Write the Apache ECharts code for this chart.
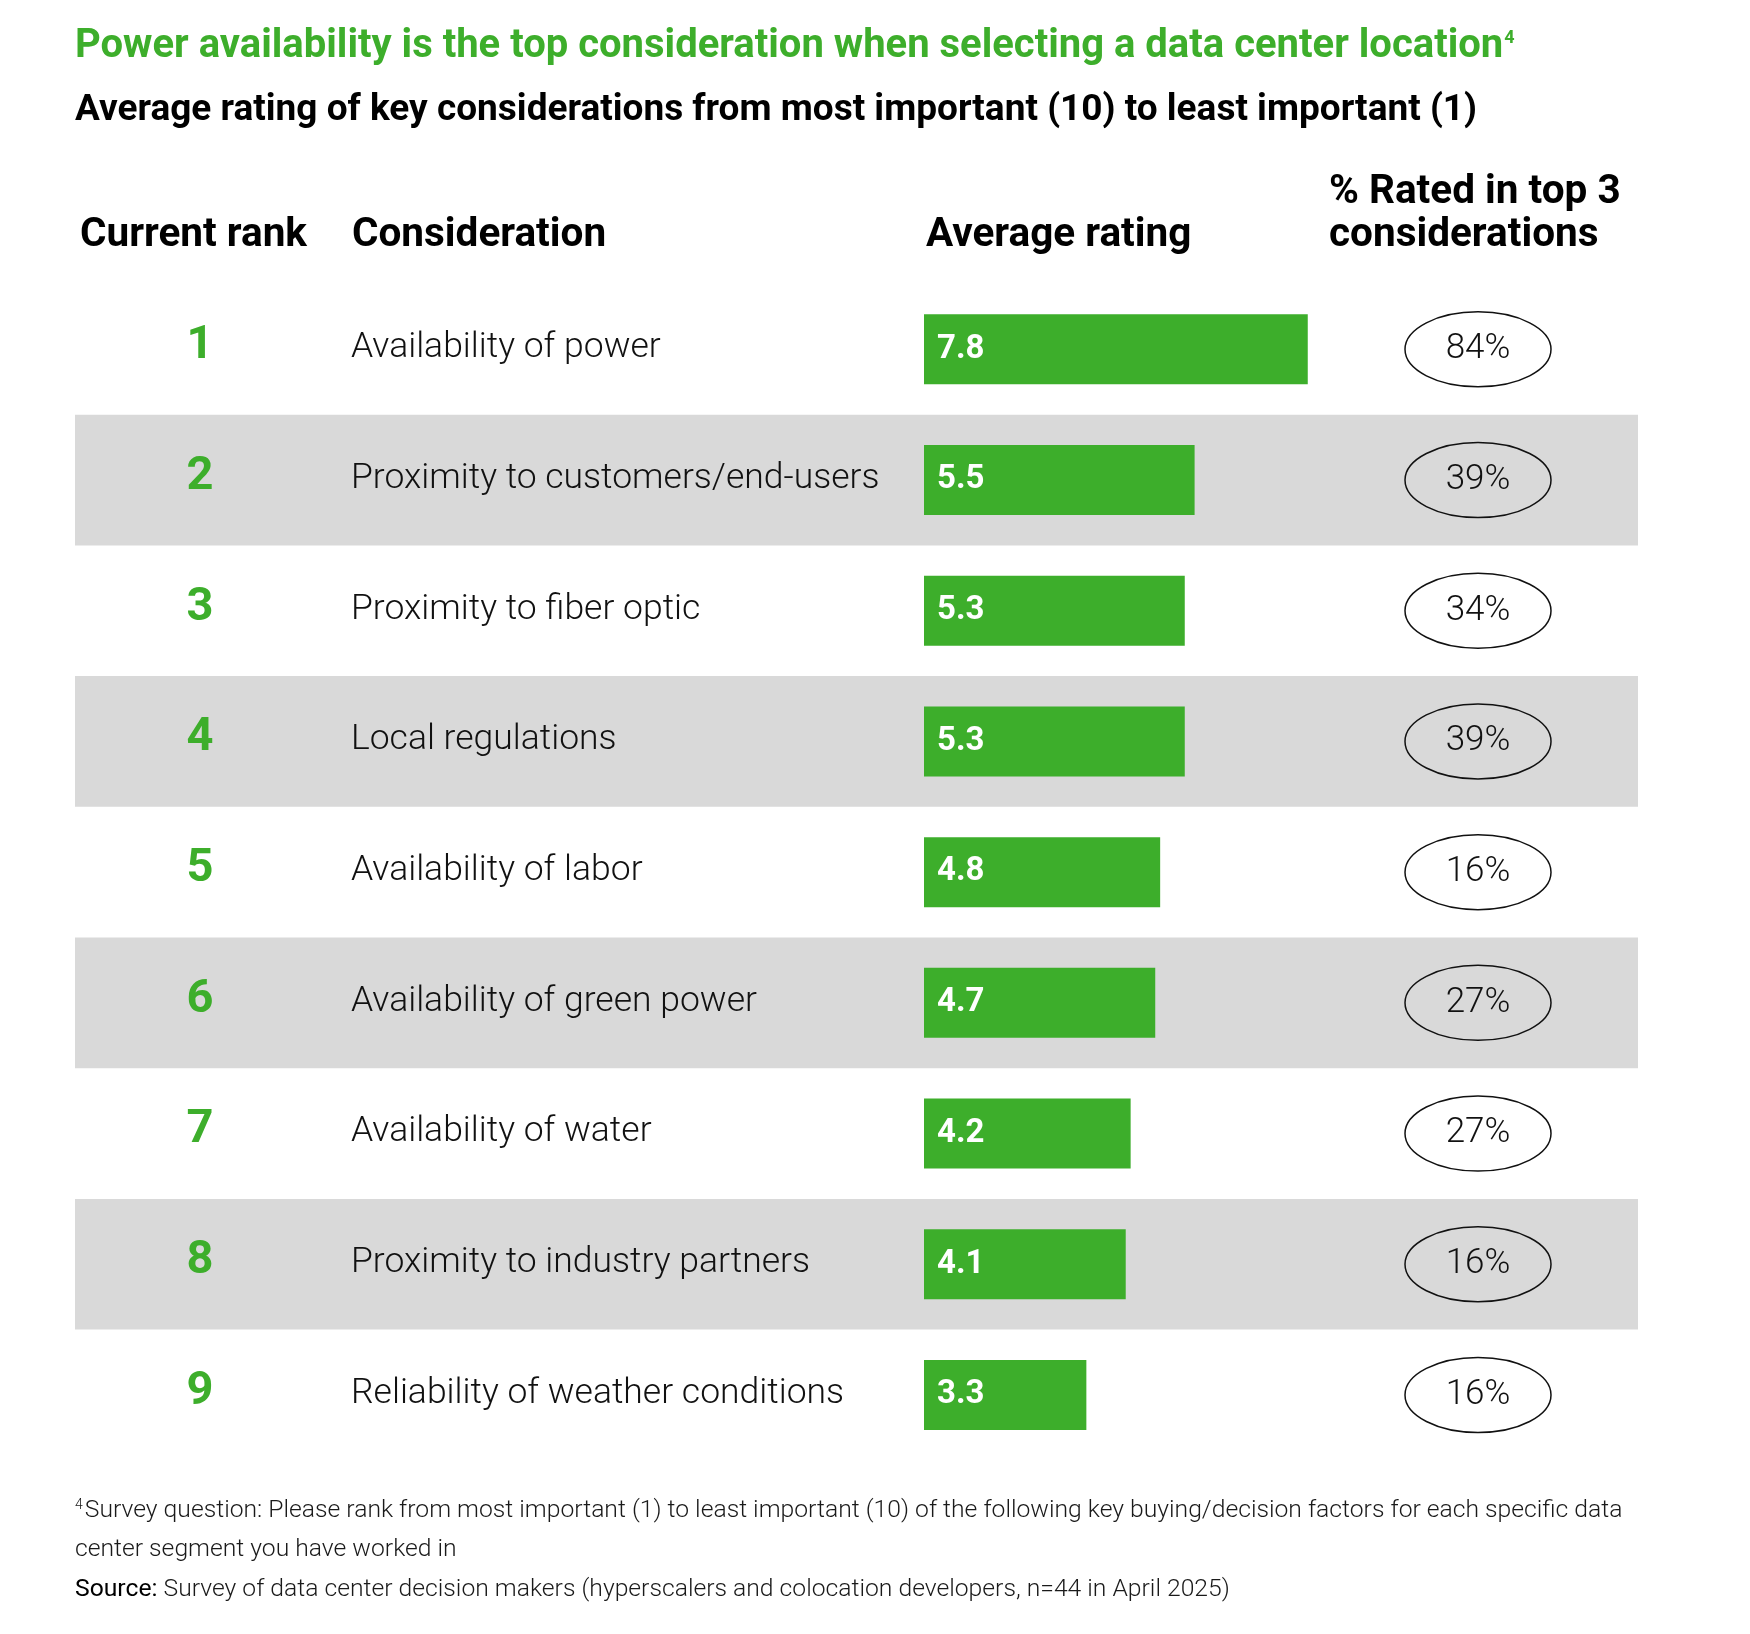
<!DOCTYPE html>
<html>
<head>
<meta charset="utf-8">
<title>Data center location considerations</title>
<script src="https://cdn.jsdelivr.net/npm/echarts@6.0.0/dist/echarts.min.js"></script>
<style>
  html, body { margin: 0; padding: 0; background: #fff; }
  #chart { width: 1750px; height: 1634px; }
</style>
</head>
<body>
<div id="chart"></div>
<script>
// chart data
const ranks = ['1', '2', '3', '4', '5', '6', '7', '8', '9'];
const considerations = [
  'Availability of power',
  'Proximity to customers/end-users',
  'Proximity to fiber optic',
  'Local regulations',
  'Availability of labor',
  'Availability of green power',
  'Availability of water',
  'Proximity to industry partners',
  'Reliability of weather conditions'
];
const avgRating = [7.8, 5.5, 5.3, 5.3, 4.8, 4.7, 4.2, 4.1, 3.3];
const pctTop3 = [84, 39, 34, 39, 16, 27, 27, 16, 16];

const GREEN = '#3dae2b';
const BAND = '#d9d9d9';
const FONT = 'Roboto, "Noto Sans", sans-serif';

// table geometry
const ROW_H = 130.7;
const TOP = 284;
const HEIGHT = ROW_H * ranks.length;

const chart = echarts.init(document.getElementById('chart'));

// rank / label / ellipse for each row
const renderRow = (params, api) => {
  const i = params.dataIndex;
  const p = api.coord([0, i]);
  const x0 = p[0];
  const cy = p[1];
  return {
    type: 'group',
    children: [
      {
        type: 'text',
        style: {
          text: ranks[i], x: x0 + 125, y: cy - 3,
          align: 'center', verticalAlign: 'middle',
          fontFamily: FONT, fontWeight: 'bold', fontSize: 47, fill: GREEN
        }
      },
      {
        type: 'text',
        style: {
          text: considerations[i], x: x0 + 276, y: cy - 1,
          align: 'left', verticalAlign: 'middle',
          fontFamily: FONT, fontWeight: 300, fontSize: 35.5, fill: '#111'
        }
      },
      {
        type: 'ellipse',
        shape: { cx: x0 + 1403, cy: cy, rx: 73, ry: 37.5 },
        style: { fill: 'none', stroke: '#111', lineWidth: 1.5 }
      },
      {
        type: 'text',
        style: {
          text: pctTop3[i] + '%', x: x0 + 1403, y: cy,
          align: 'center', verticalAlign: 'middle',
          fontFamily: FONT, fontWeight: 300, fontSize: 35, fill: '#111'
        }
      }
    ]
  };
};

const header = (text, x, y) => ({
  type: 'text', left: x, top: y - 24,
  style: { text: text, fontFamily: FONT, fontWeight: 'bold', fontSize: 40.5, fill: '#000' }
});

const option = {
  backgroundColor: '#fff',
  animation: false,
  title: [
    {
      text: '{m|Power availability is the top consideration when selecting a data center location}{s|4}',
      left: 75, top: 23.5, padding: 0,
      textStyle: {
        rich: {
          m: { fontFamily: FONT, fontWeight: 'bold', fontSize: 40, lineHeight: 46, color: GREEN },
          s: { fontFamily: FONT, fontWeight: 'bold', fontSize: 18, verticalAlign: 'top', padding: [6, 0, 0, 1], color: GREEN }
        }
      }
    },
    {
      text: 'Average rating of key considerations from most important (10) to least important (1)',
      left: 75, top: 88.5, padding: 0,
      textStyle: { fontFamily: FONT, fontWeight: 'bold', fontSize: 37, lineHeight: 44, color: '#000' }
    }
  ],
  graphic: [
    header('Current rank', 80, 239),
    header('Consideration', 352, 239),
    header('Average rating', 926, 239),
    header('% Rated in top 3', 1329, 196),
    header('considerations', 1329, 239),
    {
      type: 'text', left: 75, top: 1498,
      style: {
        text: '{s|4}{n|Survey question: Please rank from most important (1) to least important (10) of the following key buying/decision factors for each specific data}\n' +
              '{n|center segment you have worked in}\n' +
              '{b|Source:}{n| Survey of data center decision makers (hyperscalers and colocation developers, n=44 in April 2025)}',
        rich: {
          n: { fontFamily: FONT, fontWeight: 300, fontSize: 24.7, lineHeight: 39.8, fill: '#1a1a1a' },
          b: { fontFamily: FONT, fontWeight: 'normal', fontSize: 24.7, lineHeight: 39.8, fill: '#000' },
          s: { fontFamily: FONT, fontWeight: 300, fontSize: 14, verticalAlign: 'top', padding: [8, 2, 0, 0], fill: '#1a1a1a' }
        }
      }
    }
  ],
  grid: [
    { left: 75, top: TOP, width: 1563, height: HEIGHT },
    { left: 924, top: TOP, width: 492, height: HEIGHT }
  ],
  xAxis: [
    { gridIndex: 0, type: 'value', min: 0, max: 1, show: false },
    { gridIndex: 1, type: 'value', min: 0, max: 10, show: false }
  ],
  yAxis: [
    {
      gridIndex: 0, type: 'category', data: ranks, inverse: true,
      axisLine: { show: false }, axisTick: { show: false }, axisLabel: { show: false },
      splitLine: { show: false },
      splitArea: { show: true, areaStyle: { color: ['rgba(255,255,255,0)', BAND] } }
    },
    {
      gridIndex: 1, type: 'category', data: ranks, inverse: true,
      axisLine: { show: false }, axisTick: { show: false }, axisLabel: { show: false },
      splitLine: { show: false }
    }
  ],
  series: [
    {
      type: 'custom',
      xAxisIndex: 0, yAxisIndex: 0,
      data: ranks.map((r, i) => [0, i]),
      encode: { x: 0, y: 1 },
      renderItem: renderRow,
      clip: false,
      silent: true
    },
    {
      type: 'bar',
      xAxisIndex: 1, yAxisIndex: 1,
      data: avgRating,
      barWidth: 70,
      itemStyle: { color: GREEN },
      label: {
        show: true, position: 'insideLeft', distance: 13,
        color: '#fff', fontFamily: FONT, fontWeight: 'bold', fontSize: 33,
        formatter: p => p.value.toFixed(1)
      },
      silent: true
    }
  ]
};

chart.setOption(option);
</script>
</body>
</html>
